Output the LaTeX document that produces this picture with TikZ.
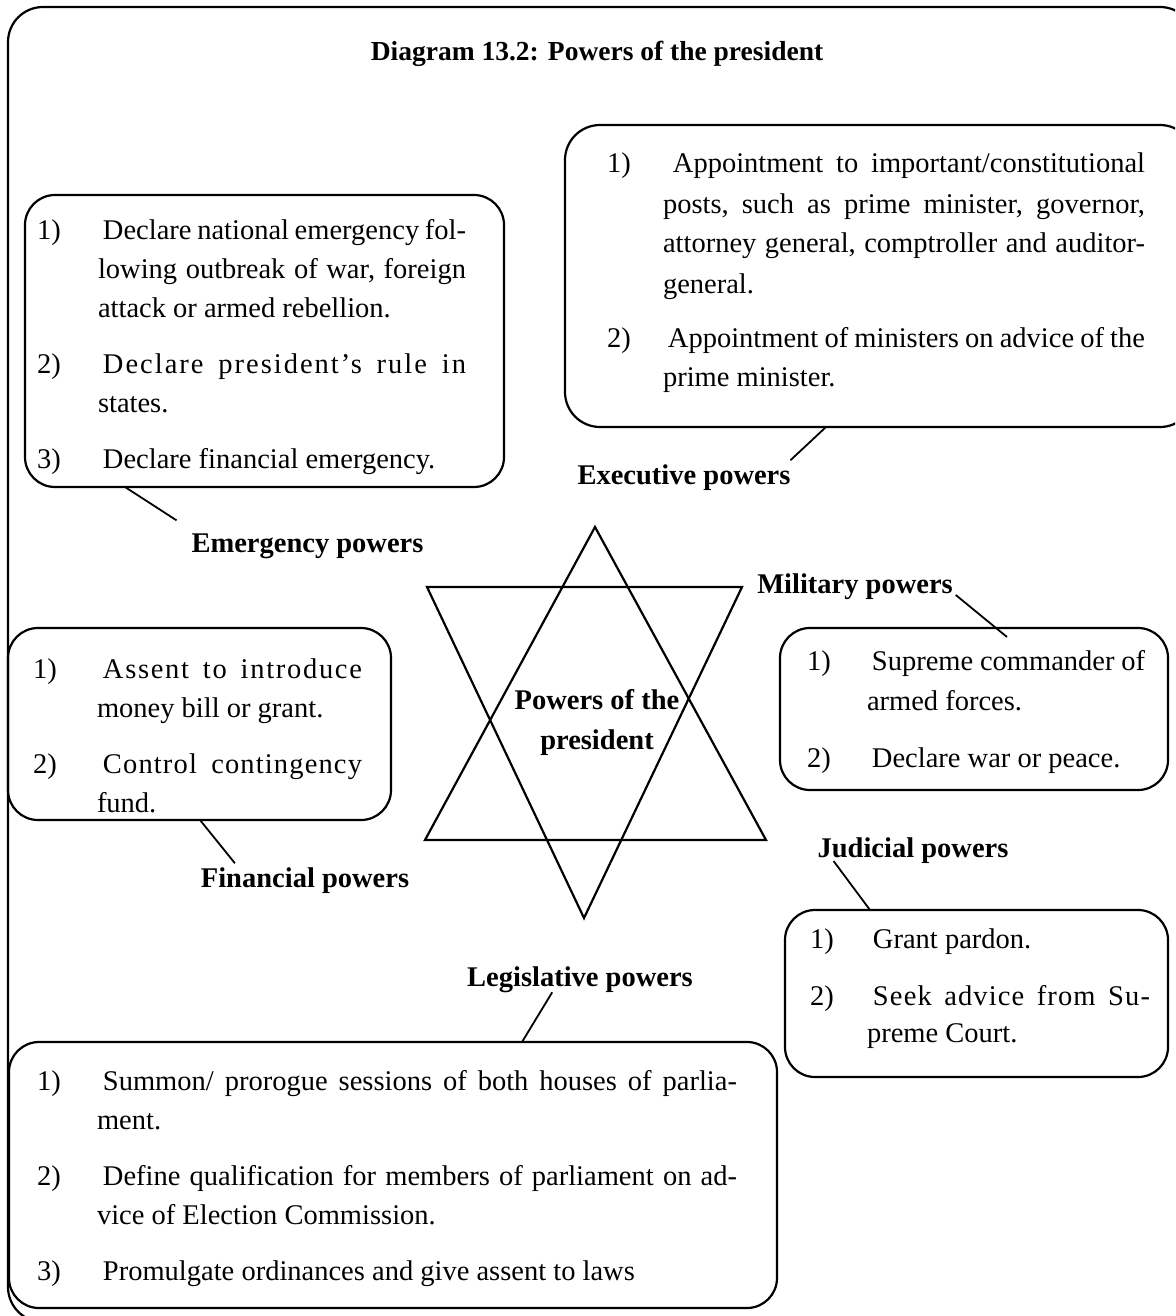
\documentclass[tikz,border=0pt]{standalone}
\usepackage{fontspec}
\setmainfont{Liberation Serif}
\newlength\numw
\newlength\itgap
\newcommand\blk[2]{\setlength\numw{#1}\setlength\itgap{#2}\hyphenpenalty=10000 \exhyphenpenalty=10000 \tolerance=10000 \hbadness=10000 \hfuzz=30pt\relax}
\newcommand\pitem[3]{\noindent\hangindent=\numw\hangafter=1\relax\makebox[\numw][l]{#1}\hspace*{#2}#3\par}
\newcommand\igap{\par\vskip\itgap}
\newcommand\spaced[2]{{\addfontfeature{LetterSpace=#1}#2}}
\begin{document}
\begin{tikzpicture}[x=1pt,y=-1pt,
  pbox/.style={draw, line width=2.2pt, rounded corners=30pt, inner sep=0pt, outer sep=0pt},
  ptext/.style={inner sep=0pt, outer sep=0pt, align=justify, anchor=base west},
  lbl/.style={inner sep=0pt, outer sep=0pt, font=\bfseries\fontsize{28.5}{40}\selectfont},
  conn/.style={line width=1.8pt},
  starline/.style={line width=2.2pt, line join=miter}]
\useasboundingbox (0,0) rectangle (1175,1316);
\clip (0,0) rectangle (1175,1316);
\fill[white] (0,0) rectangle (1175,1316);

% outer frame
\node[pbox, rounded corners=35pt, minimum width=1187pt, minimum height=1315pt] (frame) at (601.5,664.5) {};

% title
\node[lbl, anchor=base, font=\bfseries\fontsize{27.5}{33}\selectfont] (title) at (597,61) {Diagram 13.2: Powers of the president};

% boxes
\node[pbox, minimum width=479pt, minimum height=292pt] (emB) at (264.5,341) {};
\node[pbox, rounded corners=35pt, minimum width=630pt, minimum height=302pt] (exB) at (880,276) {};
\node[pbox, minimum width=383pt, minimum height=192pt] (fiB) at (199.5,724) {};
\node[pbox, minimum width=388pt, minimum height=162pt] (miB) at (974,709) {};
\node[pbox, minimum width=383pt, minimum height=167pt] (juB) at (976.5,993.5) {};
\node[pbox, minimum width=768pt, minimum height=266pt] (leB) at (393,1175) {};

% box texts
\node[ptext, text width=429pt, font=\fontsize{28.5}{39}\selectfont] (emT) at (37,239) {\blk{61pt}{17pt}%
\pitem{1)}{5pt}{Declare~national~emergency~fol-\linebreak lowing~outbreak~of~war,~foreign\linebreak attack~or~armed~rebellion.}\igap
\pitem{2)}{5pt}{\spaced{7}{Declare~president’s~rule~in}\linebreak states.}\igap
\pitem{3)}{5pt}{Declare~financial~emergency.}};

\node[ptext, text width=538pt, font=\fontsize{28.5}{40}\selectfont] (exT) at (607,173) {\blk{56pt}{14pt}%
\pitem{1)}{10pt}{Appointment~to~important/constitutional\linebreak posts,~such~as~prime~minister,~governor,\linebreak attorney~general,~comptroller~and~auditor-\linebreak general.}\igap
\pitem{2)}{5pt}{Appointment~of~ministers~on~advice~of~the\linebreak prime~minister.}};

\node[ptext, text width=329pt, font=\fontsize{28.5}{39}\selectfont] (fiT) at (33,678) {\blk{64pt}{17pt}%
\pitem{1)}{6pt}{\spaced{6}{Assent~to~introduce}\linebreak money~bill~or~grant.}\igap
\pitem{2)}{6pt}{\spaced{4}{Control~contingency}\linebreak fund.}};

\node[ptext, text width=338pt, font=\fontsize{28.5}{40}\selectfont] (miT) at (807,670) {\blk{60pt}{17pt}%
\pitem{1)}{5pt}{Supreme~commander~of\linebreak armed~forces.}\igap
\pitem{2)}{5pt}{Declare~war~or~peace.}};

\node[ptext, text width=340pt, font=\fontsize{28.5}{37}\selectfont] (juT) at (810,948) {\blk{57pt}{20pt}%
\pitem{1)}{6pt}{Grant~pardon.}\igap
\pitem{2)}{6pt}{\spaced{4}{Seek~advice~from~Su-}\linebreak preme~Court.}};

\node[ptext, text width=700pt, font=\fontsize{28.5}{39}\selectfont] (leT) at (37,1090) {\blk{60pt}{17pt}%
\pitem{1)}{6pt}{Summon/~prorogue~sessions~of~both~houses~of~parlia-\linebreak ment.}\igap
\pitem{2)}{6pt}{Define~qualification~for~members~of~parliament~on~ad-\linebreak vice~of~Election~Commission.}\igap
\pitem{3)}{6pt}{Promulgate~ordinances~and~give~assent~to~laws}};

% star of David
\coordinate (u1) at (595,527);
\coordinate (u2) at (766,840);
\coordinate (u3) at (425,840);
\coordinate (d1) at (427,587);
\coordinate (d2) at (742,587);
\coordinate (d3) at (584,918);
\draw[starline] (u1) -- (u2) -- (u3) -- cycle;
\draw[starline] (d1) -- (d2) -- (d3) -- cycle;
\node[lbl, align=center, anchor=center] (ctr) at (597,722) {Powers of the\\president};

% labels
\node[lbl, anchor=base] (emL) at (307.5,552) {Emergency powers};
\node[lbl, anchor=base] (exL) at (684,484) {Executive powers};
\node[lbl, anchor=base] (miL) at (855,593) {Military powers};
\node[lbl, anchor=base] (fiL) at (305,887) {Financial powers};
\node[lbl, anchor=base] (juL) at (913,857) {Judicial powers};
\node[lbl, anchor=base] (leL) at (580,986) {Legislative powers};

% connectors
\draw[conn] ([xshift=100pt]emB.south west) -- ([xshift=-15pt,yshift=13pt]emL.north west);
\draw[conn] ([xshift=261pt]exB.south west) -- ([yshift=4pt]exL.north east);
\draw[conn] ([xshift=3pt,yshift=-2pt]miL.base east) -- ([xshift=227pt,yshift=-9pt]miB.north west);
\draw[conn] ([xshift=192pt]fiB.south west) -- ([xshift=34pt,yshift=4pt]fiL.north west);
\draw[conn] ([xshift=16pt,yshift=2pt]juL.south west) -- ([xshift=85pt]juB.north west);
\draw[conn] ([xshift=85pt]leL.south west) -- ([xshift=513pt]leB.north west);
\end{tikzpicture}
\end{document}
